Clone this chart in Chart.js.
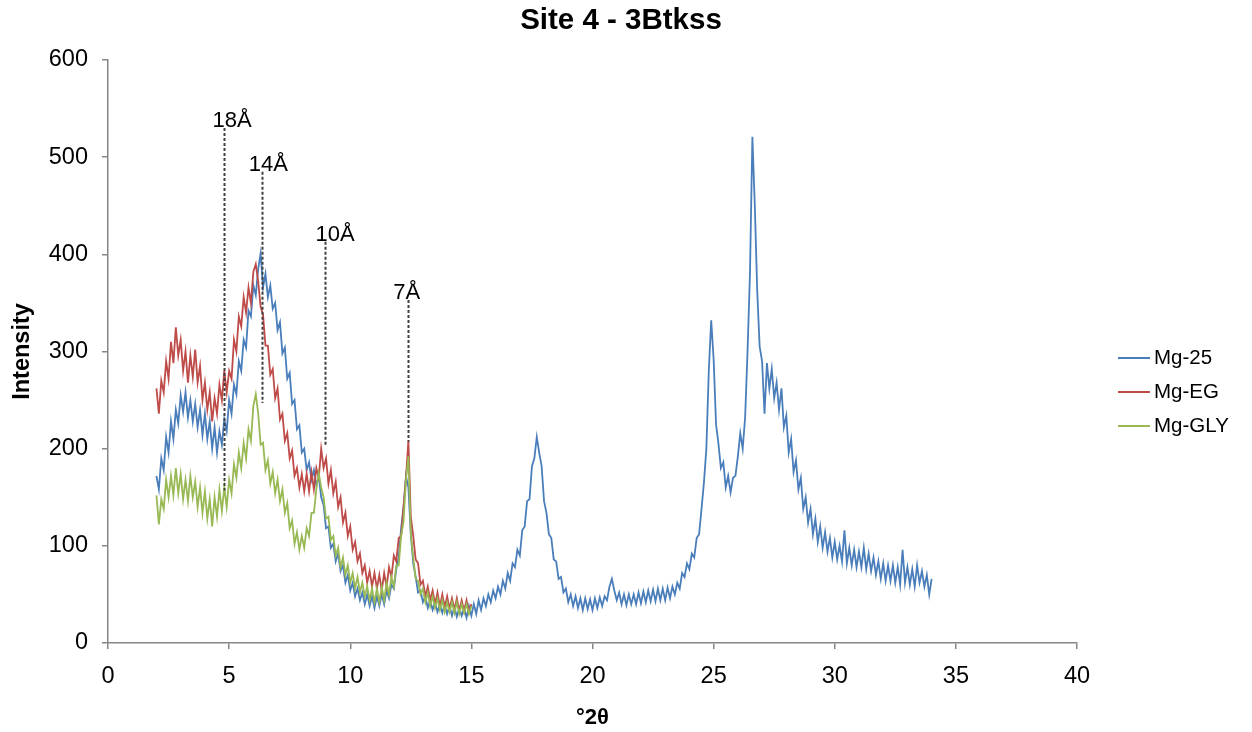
<!DOCTYPE html>
<html>
<head>
<meta charset="utf-8">
<script src="https://cdn.jsdelivr.net/npm/chart.js@4.4.1/dist/chart.umd.min.js"></script>
<style>
  html, body { margin: 0; padding: 0; background: #ffffff; }
  #wrap { width: 1252px; height: 732px; }
</style>
</head>
<body>
<div id="wrap"><canvas id="c" width="1252" height="732"></canvas></div>
<script>
// ---- data ----
const chartTitle = 'Site 4 - 3Btkss';
const seriesNames = ['Mg-25', 'Mg-EG', 'Mg-GLY'];
const angleStart = 2.0;   // °2θ of first sample
const angleStep = 0.1;    // sampling step, °2θ

const mg25 = [
  172,158,190,178,212,196,228,210,240,226,
  255,238,258,232,250,228,246,222,240,214,
  236,210,228,200,222,196,218,204,230,218,
  250,236,266,256,290,280,312,304,342,336,
  368,358,385,401,366,380,356,368,344,350,
  322,330,298,304,272,278,246,250,220,224,
  196,200,178,186,168,178,162,172,150,142,
  118,120,98,102,84,92,74,80,62,70,
  54,62,48,56,44,52,40,50,38,48,
  36,48,38,50,40,54,46,60,56,76,
  88,118,140,172,160,112,82,68,52,54,
  42,48,36,44,34,42,32,40,31,40,
  30,38,28,37,27,36,28,36,26,38,
  28,40,30,44,34,46,38,50,42,54,
  46,58,50,64,56,72,64,82,78,96,
  90,116,120,146,148,182,190,212,196,182,
  146,134,112,108,86,84,66,68,52,56,
  42,50,38,48,36,46,34,46,35,45,
  34,46,36,47,38,48,44,58,66,54,
  44,52,40,50,39,50,40,50,40,52,
  41,53,42,54,43,55,43,56,44,56,
  44,57,46,58,50,62,56,72,68,82,
  76,92,88,108,112,138,165,200,280,332,
  292,225,205,180,186,160,172,155,170,172,
  192,216,200,232,300,380,521,450,362,305,
  290,236,288,262,282,252,268,240,262,222,
  234,196,210,176,188,158,170,138,150,124,
  138,112,128,104,120,98,114,94,108,88,
  104,86,100,84,116,82,98,80,96,78,
  94,78,98,76,92,74,88,70,84,66,
  82,64,80,64,80,62,78,60,96,62,
  78,60,76,58,80,62,74,58,70,50,
  66
];

const mgEG = [
  262,236,270,258,290,272,310,288,325,296,
  312,280,300,268,296,274,302,268,285,250,
  268,240,258,228,252,236,266,250,280,258,
  280,272,312,300,336,326,356,340,366,350,
  382,390,372,346,338,306,306,276,282,252,
  262,230,236,208,216,190,198,172,180,160,
  174,156,174,156,176,158,180,170,200,180,
  190,164,178,154,166,140,150,124,134,110,
  120,96,104,84,92,72,80,62,74,58,
  72,56,70,54,72,58,78,68,90,84,
  108,110,140,170,208,130,110,86,82,60,
  64,48,58,44,54,40,52,38,50,36,
  48,35,46,34,46,33,44,33,44,32,
  40
];

const mgGLY = [
  152,122,148,138,168,150,172,152,180,154,
  174,148,168,146,172,150,166,140,160,134,
  156,128,148,120,150,130,158,136,160,140,
  168,154,184,170,196,180,206,190,220,208,
  244,256,236,204,206,178,188,164,176,154,
  168,146,158,134,144,118,126,102,114,96,
  110,98,118,110,134,134,158,175,160,150,
  128,130,106,110,90,98,78,88,70,80,
  62,72,56,68,52,62,48,58,44,56,
  42,56,42,58,44,62,50,68,58,80,
  80,110,125,168,192,112,88,66,64,50,
  56,42,52,38,48,36,46,34,44,32,
  42,32,42,31,42,30,40,31,40,30,
  38
];

// d-spacing reference lines
const markerLabels = ['18Å', '14Å', '10Å', '7Å'];
const markerAngles = [4.8, 6.36, 8.96, 12.4];
const markerLabelAngles = [5.12, 6.62, 9.37, 12.33];
const markerTops = [530, 485, 413, 353];
const markerBottoms = [157, 247, 202, 207];

const xTicks = [0, 5, 10, 15, 20, 25, 30, 35, 40];
const yTicks = [0, 100, 200, 300, 400, 500, 600];

// ---- build ----
const FONT = '"Liberation Sans", Arial, sans-serif';
const colors = ['#4A7EBB', '#BE4B48', '#98B954'];
function toPoints(vals) {
  return vals.map((v, i) => ({ x: +(angleStart + i * angleStep).toFixed(2), y: v }));
}
const allSeries = [mg25, mgEG, mgGLY];

const overlay = {
  id: 'overlay',
  afterDatasetsDraw(chart) {
    const { ctx } = chart;
    const x = chart.scales.x, y = chart.scales.y;
    ctx.save();
    // dashed reference lines
    ctx.strokeStyle = '#404040';
    ctx.lineWidth = 2;
    ctx.setLineDash([3, 2]);
    markerAngles.forEach((a, i) => {
      const px = Math.round(x.getPixelForValue(a)) + 0.5;
      ctx.beginPath();
      ctx.moveTo(px, y.getPixelForValue(markerTops[i]));
      ctx.lineTo(px, y.getPixelForValue(markerBottoms[i]));
      ctx.stroke();
    });
    ctx.setLineDash([]);
    ctx.fillStyle = '#000000';
    ctx.font = '22px ' + FONT;
    ctx.textAlign = 'center';
    ctx.textBaseline = 'alphabetic';
    markerLabels.forEach((t, i) => {
      ctx.fillText(t, x.getPixelForValue(markerLabelAngles[i]), y.getPixelForValue(markerTops[i]) - 1);
    });
    // legend
    const lx0 = 1118, lx1 = 1150, ly0 = 358, lstep = 34;
    ctx.textAlign = 'left';
    ctx.textBaseline = 'middle';
    ctx.font = '20.5px ' + FONT;
    seriesNames.forEach((n, i) => {
      const ly = ly0 + i * lstep;
      ctx.strokeStyle = colors[i];
      ctx.lineWidth = 2;
      ctx.beginPath();
      ctx.moveTo(lx0, ly);
      ctx.lineTo(lx1, ly);
      ctx.stroke();
      ctx.fillStyle = '#000000';
      ctx.fillText(n, lx1 + 4, ly);
    });
    // title
    ctx.font = 'bold 29.5px ' + FONT;
    ctx.textAlign = 'center';
    ctx.textBaseline = 'middle';
    ctx.fillText(chartTitle, 621, 21);
    ctx.restore();
  }
};

new Chart(document.getElementById('c'), {
  type: 'line',
  data: {
    datasets: allSeries.map((vals, i) => ({
      label: seriesNames[i],
      data: toPoints(vals),
      borderColor: colors[i],
      backgroundColor: colors[i],
      borderWidth: 1.8,
      pointRadius: 0,
      tension: 0,
      fill: false,
      order: 3 - i
    }))
  },
  options: {
    responsive: false,
    animation: false,
    events: [],
    layout: { padding: { left: 0, right: 175, top: 60, bottom: 0 } },
    plugins: {
      legend: { display: false },
      tooltip: { enabled: false },
      title: { display: false }
    },
    scales: {
      x: {
        type: 'linear',
        min: 0, max: 40,
        afterBuildTicks(s) { s.ticks = xTicks.map(v => ({ value: v })); },
        afterFit(s) { s.height = 89; },
        border: { display: true, color: '#868686', width: 1.5 },
        grid: { drawOnChartArea: false, drawTicks: true, tickLength: 6, color: '#868686', lineWidth: 1.5 },
        ticks: { color: '#000000', font: { family: FONT, size: 23.5 }, padding: 13, maxRotation: 0 },
        title: { display: true, text: '°2θ', color: '#000000', font: { family: FONT, size: 22, weight: 'bold' }, padding: { top: 0, bottom: 1 } }
      },
      y: {
        type: 'linear',
        min: 0, max: 600,
        afterBuildTicks(s) { s.ticks = yTicks.map(v => ({ value: v })); },
        afterFit(s) { s.width = 108; },
        border: { display: true, color: '#868686', width: 1.5 },
        grid: { drawOnChartArea: false, drawTicks: true, tickLength: 6, color: '#868686', lineWidth: 1.5 },
        ticks: { color: '#000000', font: { family: FONT, size: 23.5 }, padding: 14 },
        title: { display: true, text: 'Intensity', color: '#000000', font: { family: FONT, size: 23.5, weight: 'bold' }, padding: { top: 8, bottom: 0 } }
      }
    }
  },
  plugins: [overlay]
});
</script>
</body>
</html>
